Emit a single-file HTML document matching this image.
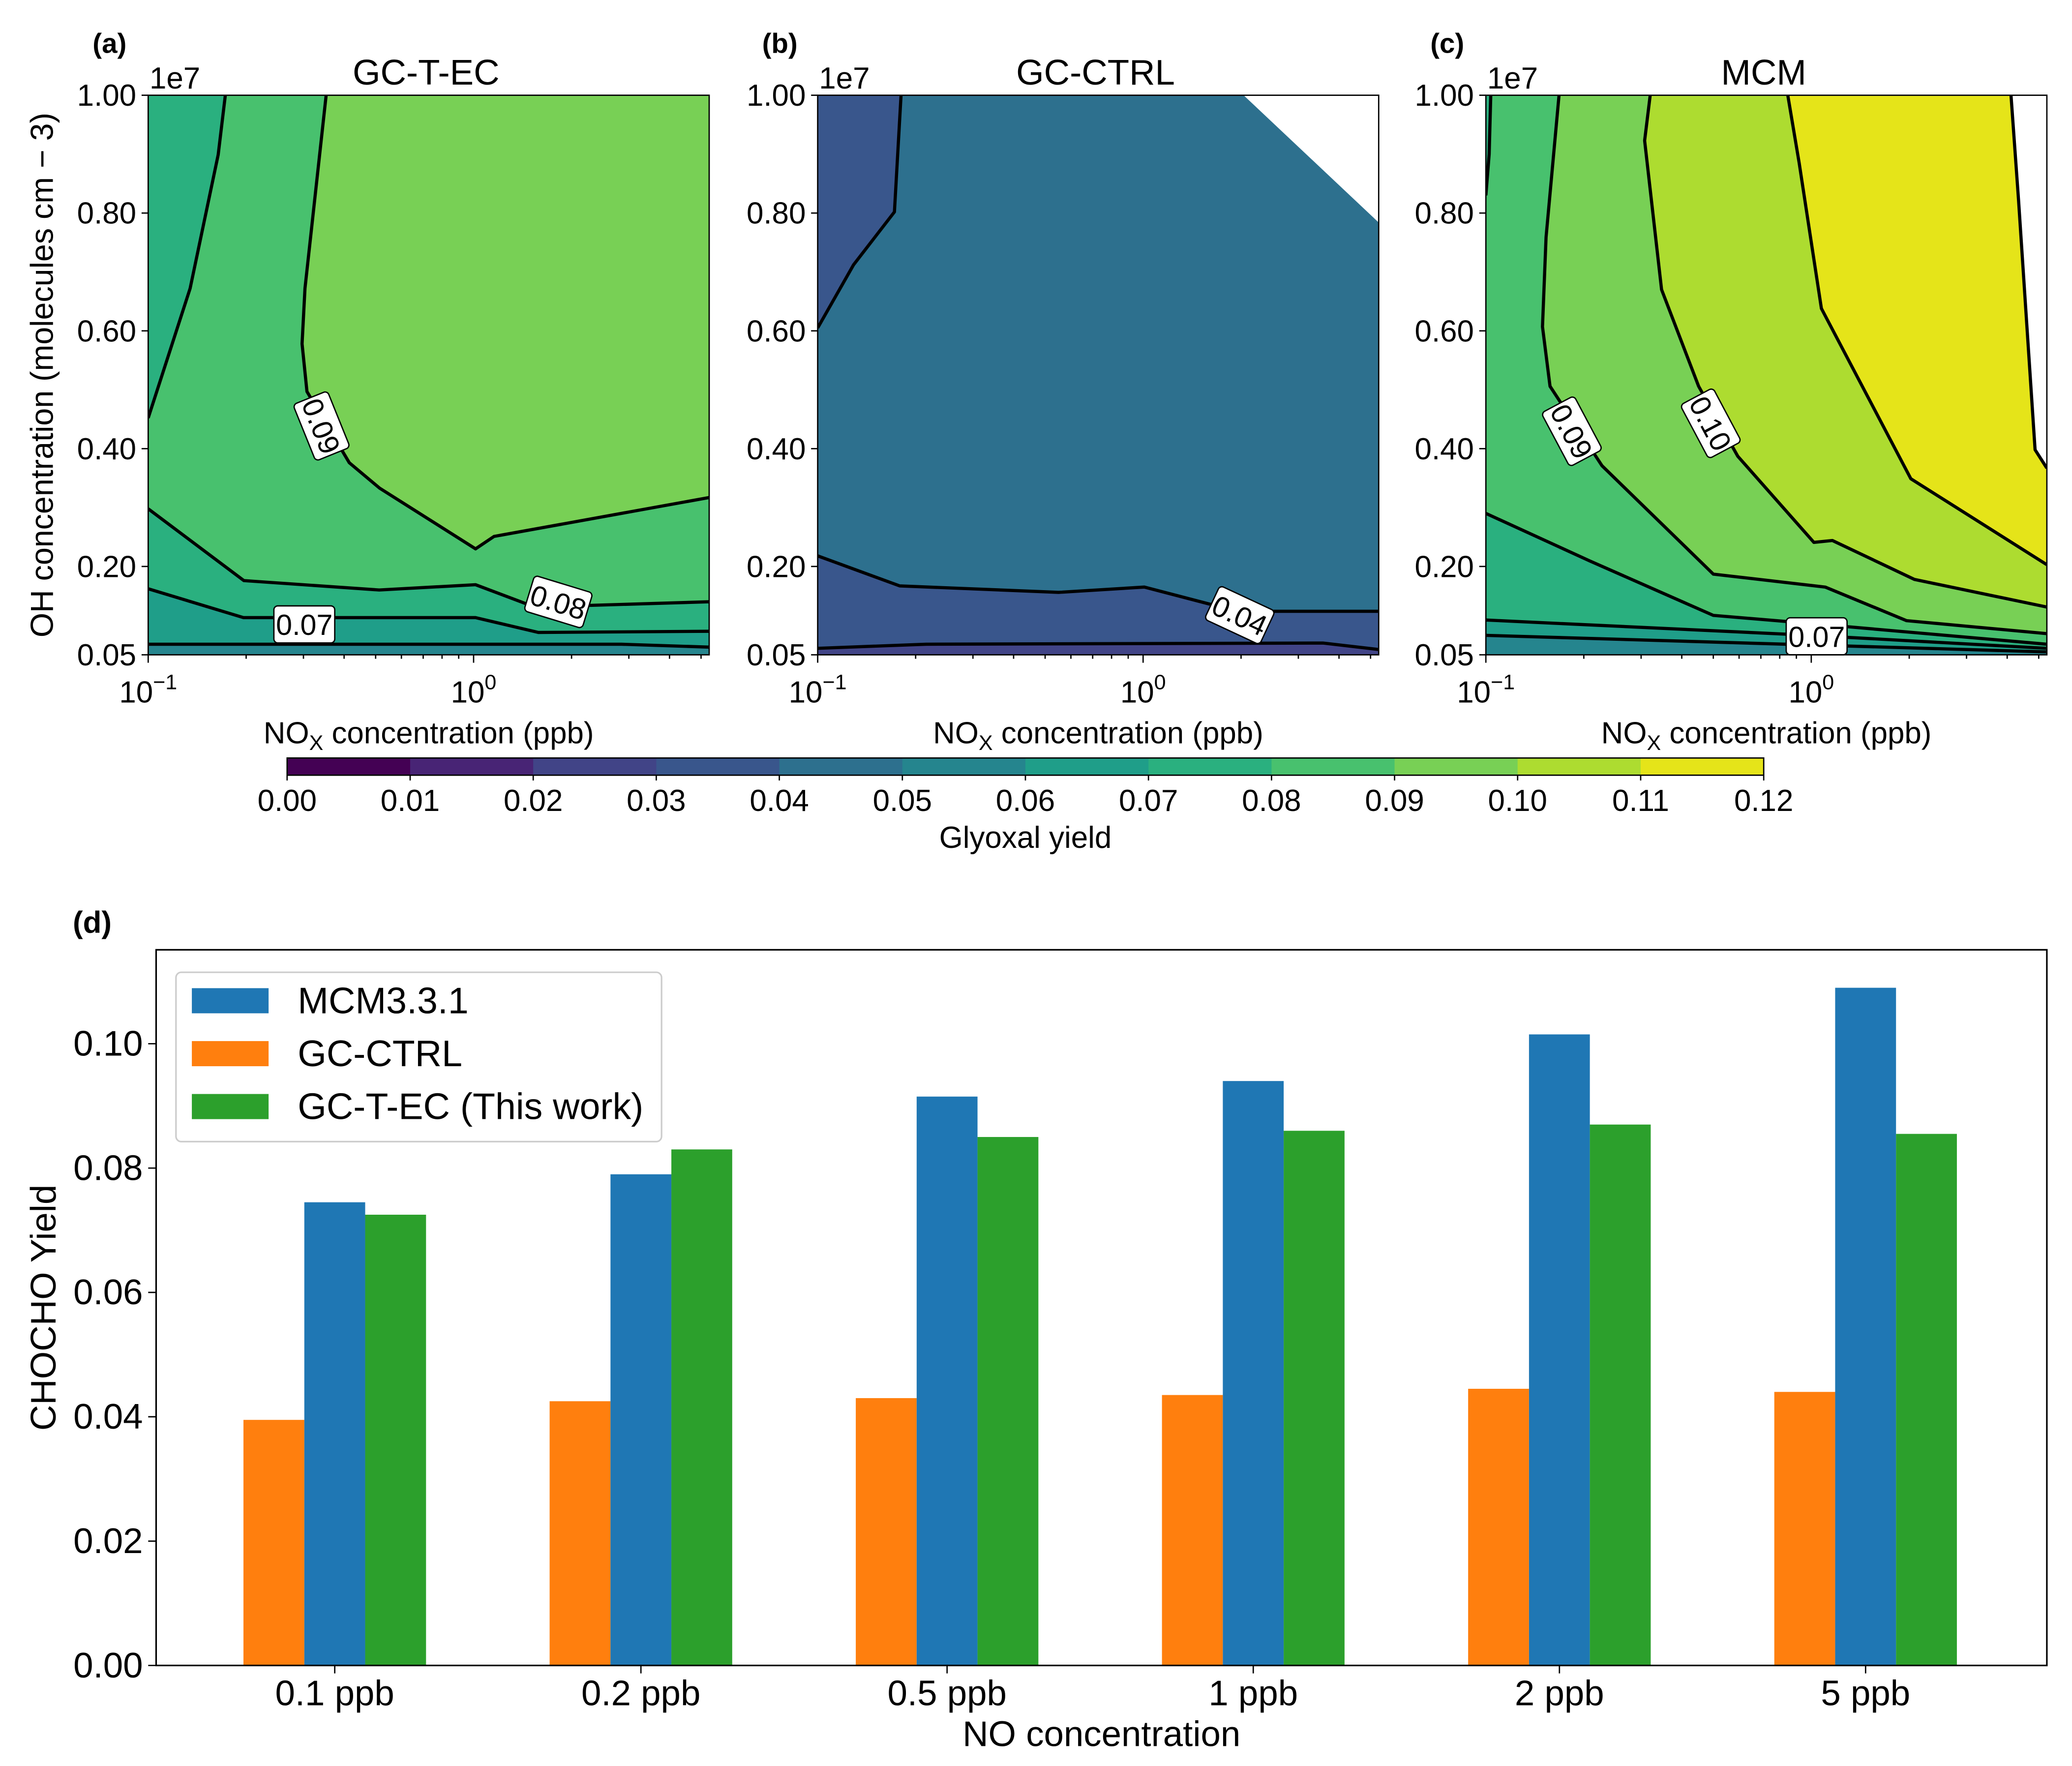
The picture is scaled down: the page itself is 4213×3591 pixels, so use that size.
<!DOCTYPE html>
<html><head><meta charset="utf-8">
<style>
html,body{margin:0;padding:0;background:#fff;}
svg{display:block;font-family:"Liberation Sans",Arial,sans-serif;}
</style></head>
<body>
<svg id="fig" xmlns="http://www.w3.org/2000/svg" width="4213" height="3591" viewBox="0 0 1566 1335" preserveAspectRatio="none">
<rect x="0" y="0" width="1566" height="1335" fill="#fff"/>
<g id="contours"></g>
<g id="colorbar"></g>
<g id="bars"></g>
</svg>
<script>
// ---------- contour data (log10 NOx ppb, OH 1e7 molec/cm3) ----------
const levelColors = ["#440154","#482475","#414487","#39568c","#2d708e","#25858e","#1f9e89","#2ab07f","#48c16e","#78d055","#addc30","#e5e419"];
const cbTicks = ["0.00","0.01","0.02","0.03","0.04","0.05","0.06","0.07","0.08","0.09","0.10","0.11","0.12"];
const ohTicks = [1.00,0.80,0.60,0.40,0.20,0.05];

const aLine08top = [[-0.763,1.0],[-0.785,0.899],[-0.871,0.672],[-1,0.452]];
const aLine09 = [[-0.453,1.0],[-0.518,0.672],[-0.527,0.578],[-0.512,0.497],[-0.382,0.376],[-0.289,0.333],[0.006,0.230],[0.063,0.251],[0.724,0.317]];
const aLine08 = [[-1,0.298],[-0.706,0.176],[-0.290,0.160],[0.006,0.169],[0.188,0.131],[0.724,0.140]];
const aLine07 = [[-1,0.162],[-0.707,0.113],[0.006,0.113],[0.199,0.088],[0.724,0.090]];
const aLine06 = [[-1,0.068],[0.455,0.068],[0.724,0.063]];

const bLineTop = [[-0.744,1.0],[-0.764,0.802],[-0.890,0.712],[-1,0.605]];
const bLine04 = [[-1,0.218],[-0.748,0.167],[-0.260,0.156],[0.004,0.165],[0.289,0.124],[0.724,0.124]];
const bLine03 = [[-1,0.061],[-0.667,0.068],[0.553,0.070],[0.724,0.059]];
const bWhite = [[0.309,1.0],[0.724,0.784]];

const cLineTL = [[-0.985,1.0],[-0.99,0.90],[-1,0.83]];
const cLine09 = [[-0.775,1.0],[-0.815,0.759],[-0.826,0.607],[-0.803,0.506],[-0.643,0.371],[-0.301,0.187],[0.043,0.165],[0.293,0.108],[0.724,0.086]];
const cLine10 = [[-0.495,1.0],[-0.512,0.923],[-0.460,0.670],[-0.346,0.506],[-0.226,0.387],[0.008,0.241],[0.065,0.244],[0.317,0.178],[0.724,0.131]];
const cLine11 = [[-0.072,1.0],[-0.037,0.885],[0.031,0.638],[0.306,0.349],[0.724,0.203]];
const cWhite = [[0.614,1.0],[0.637,0.822],[0.688,0.398],[0.724,0.367]];
const cLine08 = [[-1,0.29],[-0.679,0.209],[-0.301,0.117],[0.020,0.102],[0.724,0.068]];
const cLine07 = [[-1,0.109],[0.0,0.083],[0.724,0.061]];
const cLine06 = [[-1,0.083],[0.724,0.055]];

// ---------- bar data ----------
const barCategories = ["0.1 ppb","0.2 ppb","0.5 ppb","1 ppb","2 ppb","5 ppb"];
const mcmValues = [0.0745,0.079,0.0915,0.094,0.1015,0.109];
const ctrlValues = [0.0395,0.0425,0.043,0.0435,0.0445,0.044];
const tecValues = [0.0725,0.083,0.085,0.086,0.087,0.0855];
const barTicks = ["0.00","0.02","0.04","0.06","0.08","0.10"];
const legendLabels = ["MCM3.3.1","GC-CTRL","GC-T-EC (This work)"];

const NS="http://www.w3.org/2000/svg";
function mk(tag, attrs, parent, text){
  const e=document.createElementNS(NS,tag);
  for(const k in attrs) e.setAttribute(k,attrs[k]);
  if(text!==undefined) e.textContent=text;
  parent.appendChild(e); return e;
}
const PT=72, PB=495, PW=424;
const XMIN=-1, XMAX=0.724;
function px(x0,lx){return x0+(lx-XMIN)/(XMAX-XMIN)*PW;}
function py(v){return PB-(v-0.05)/0.95*(PB-PT);}
function pts(x0,arr){return arr.map(p=>px(x0,p[0]).toFixed(1)+","+py(p[1]).toFixed(1)).join(" ");}

const cg=document.getElementById('contours');
function panel(x0, name, label, title, fills, lines, labels, showY){
  const g=mk('g',{},cg);
  
  
  const cp=mk('clipPath',{id:'clip-'+name},g);
  mk('rect',{x:x0,y:PT,width:PW,height:PB-PT},cp);
  const inner=mk('g',{'clip-path':'url(#clip-'+name+')'},g);
  fills.forEach(f=>{
    const p=mk('polygon',{points:pts(x0,f.poly),fill:f.color},inner);
    
    
  });
  lines.forEach(l=>{
    const p=mk('polyline',{points:pts(x0,l),fill:'none',stroke:'#000','stroke-width':2.4,'stroke-linejoin':'round'},inner);
    
    
  });
  labels.forEach(lb=>{
    const lg=mk('g',{transform:`translate(${lb[0]},${lb[1]}) rotate(${lb[3]})`},g);
    
    
    mk('rect',{x:-23,y:-14,width:46,height:28,rx:3,fill:'#fff',stroke:'#000','stroke-width':1},lg);
    mk('text',{x:0,y:8,'font-size':22,'text-anchor':'middle'},lg,lb[2]);
  });
  mk('rect',{x:x0,y:PT,width:PW,height:PB-PT,fill:'none',stroke:'#000','stroke-width':1},g);
  ohTicks.forEach(v=>{
    const y=py(v);
    mk('line',{x1:x0-5,x2:x0,y1:y,y2:y,stroke:'#000'},g);
    const t=mk('text',{x:x0-9,y:y+8,'font-size':23,'text-anchor':'end'},g,v.toFixed(2));
    
    
  });
  for(let d=-1; d<=0; d++){
    for(let m=1;m<10;m++){
      const lx=d+Math.log10(m);
      if(lx>XMAX) break;
      const x=px(x0,lx);
      mk('line',{x1:x,x2:x,y1:PB,y2:PB+(m===1?6:3),stroke:'#000'},g);
    }
    const xt=px(x0,d);
    const t=mk('text',{x:xt,y:PB+36,'font-size':23,'text-anchor':'middle'},g);
    
    
    mk('tspan',{},t,'10');
    mk('tspan',{dy:-10,'font-size':16},t,d===-1?'\u22121':'0');
  }
  const xl=mk('text',{x:x0+PW/2,y:PB+67,'font-size':23,'text-anchor':'middle'},g);
  
  
  mk('tspan',{},xl,'NO');
  mk('tspan',{dy:5,'font-size':16},xl,'X');
  mk('tspan',{dy:-5},xl,' concentration (ppb)');
  const e7=mk('text',{x:x0+1,y:PT-5,'font-size':23},g,'1e7');
  
  
  const tt=mk('text',{x:x0+PW/2-2,y:PT-8,'font-size':27,'text-anchor':'middle'},g,title);
  
  
  const pl=mk('text',{x:x0-42,y:40,'font-size':21,'font-weight':'bold'},g,label);
  
  
  if(showY){
    const yl=mk('text',{transform:`translate(40,${(PT+PB)/2}) rotate(-90)`,'font-size':24,'text-anchor':'middle'},g,'OH concentration (molecules cm \u2212 3)');
    
    
  }
}
function below(line){return line.concat([[XMAX,0.0],[XMIN,0.0]]);}
function aboveRight(line){return line.concat([[XMAX,1.05],[line[0][0],1.05]]);}
const C=levelColors;

const aX0=112, bX0=618, cX0=1123;
panel(aX0,'gc-t-ec','(a)','GC-T-EC',[
  {poly:[[XMIN,0],[XMAX,0],[XMAX,1.05],[XMIN,1.05]],color:C[7]},
  {poly:aLine08top.concat([[-1,0.298]]).concat(aLine08.slice(1)).concat([[XMAX,1.05],[-0.763,1.05]]),color:C[8]},
  {poly:aboveRight(aLine09),color:C[9]},
  {poly:below(aLine07),color:C[6]},
  {poly:below(aLine06),color:C[5]}
],[aLine08top,aLine09,aLine08,aLine07,aLine06],[[243,322,'0.09',68],[422,455,'0.08',17],[230,472,'0.07',0]],true);

panel(bX0,'gc-ctrl','(b)','GC-CTRL',[
  {poly:[[XMIN,0],[XMAX,0],[XMAX,1.05],[XMIN,1.05]],color:C[4]},
  {poly:bLineTop.concat([[XMIN,1.05],[-0.744,1.05]]),color:C[3]},
  {poly:below(bLine04),color:C[3]},
  {poly:below(bLine03),color:C[2]},
  {poly:bWhite.concat([[XMAX,1.05],[0.309,1.05]]),color:'#fff'}
],[bLineTop,bLine04,bLine03],[[937,465,'0.04',25]],false);

panel(cX0,'mcm','(c)','MCM',[
  {poly:[[XMIN,0],[XMAX,0],[XMAX,1.05],[XMIN,1.05]],color:C[8]},
  {poly:cLineTL.concat([[XMIN,1.05],[-0.985,1.05]]),color:C[7]},
  {poly:aboveRight(cLine09),color:C[9]},
  {poly:aboveRight(cLine10),color:C[10]},
  {poly:aboveRight(cLine11),color:C[11]},
  {poly:cWhite.concat([[XMAX,1.05],[0.614,1.05]]),color:'#fff'},
  {poly:below(cLine08),color:C[7]},
  {poly:below(cLine07),color:C[6]},
  {poly:below(cLine06),color:C[5]}
],[cLineTL,cLine09,cLine10,cLine11,cWhite,cLine08,cLine07,cLine06],[[1188,326,'0.09',62],[1293,320,'0.10',62],[1373,481,'0.07',0]],false);

// ---------- colorbar ----------
const cb=document.getElementById('colorbar');
const CBX0=217, CBX1=1333, CBY=573, CBH=13;
const cbw=(CBX1-CBX0)/levelColors.length;
levelColors.forEach((col,i)=>{
  const r=mk('rect',{x:CBX0+i*cbw,y:CBY,width:cbw+0.5,height:CBH,fill:col},cb);
  
  
});
mk('rect',{x:CBX0,y:CBY,width:CBX1-CBX0,height:CBH,fill:'none',stroke:'#000','stroke-width':1},cb);
cbTicks.forEach((t,i)=>{
  const x=CBX0+i*cbw;
  mk('line',{x1:x,x2:x,y1:CBY+CBH,y2:CBY+CBH+4,stroke:'#000'},cb);
  const tx=mk('text',{x:x,y:CBY+CBH+27,'font-size':23,'text-anchor':'middle'},cb,t);
  
  
});
const cbl=mk('text',{x:(CBX0+CBX1)/2,y:641,'font-size':23,'text-anchor':'middle'},cb,'Glyoxal yield');



// ---------- bar chart ----------
const bg=document.getElementById('bars');
const BX0=118, BX1=1547, BYT=718, BYB=1259, YMAXV=(BYB-BYT)/4700;
function by(v){return BYB-v/YMAXV*(BYB-BYT);}
function bx(i){return 253+i*231.4;}
const BW=46;
const dl=mk('text',{x:55,y:705,'font-size':23,'font-weight':'bold'},bg,'(d)');


function drawSeries(vals,off,color,name){
  vals.forEach((v,i)=>{
    const r=mk('rect',{x:bx(i)+off-BW/2,y:by(v),width:BW,height:BYB-by(v),fill:color},bg);
    
    
  });
}
drawSeries(ctrlValues,-BW,'#ff7f0e','gc-ctrl');
drawSeries(mcmValues,0,'#1f77b4','mcm');
drawSeries(tecValues,BW,'#2ca02c','gc-t-ec');
mk('rect',{x:BX0,y:BYT,width:BX1-BX0,height:BYB-BYT,fill:'none',stroke:'#000','stroke-width':1.2},bg);
barTicks.forEach(t=>{
  const y=by(parseFloat(t));
  mk('line',{x1:BX0-6,x2:BX0,y1:y,y2:y,stroke:'#000'},bg);
  const tx=mk('text',{x:BX0-10,y:y+9,'font-size':27,'text-anchor':'end'},bg,t);
  
  
});
barCategories.forEach((c,i)=>{
  mk('line',{x1:bx(i),x2:bx(i),y1:BYB,y2:BYB+6,stroke:'#000'},bg);
  const tx=mk('text',{x:bx(i),y:BYB+30,'font-size':27,'text-anchor':'middle'},bg,c);
  
  
});
const bxl=mk('text',{x:(BX0+BX1)/2,y:1320,'font-size':27,'text-anchor':'middle'},bg,'NO concentration');


const byl=mk('text',{transform:`translate(42,${(BYT+BYB)/2}) rotate(-90)`,'font-size':27,'text-anchor':'middle'},bg,'CHOCHO Yield');


const lg=mk('g',{},bg);


mk('rect',{x:133,y:735,width:367,height:128,rx:4,fill:'#fff',stroke:'#ccc','stroke-width':1.2},lg);
const legColors=['#1f77b4','#ff7f0e','#2ca02c'];
legendLabels.forEach((l,i)=>{
  const e=mk('g',{},lg);
  
  
  mk('rect',{x:145,y:747+i*40,width:58,height:19,fill:legColors[i]},e);
  mk('text',{x:225,y:766+i*40,'font-size':28},e,l);
});
</script>
</body></html>
